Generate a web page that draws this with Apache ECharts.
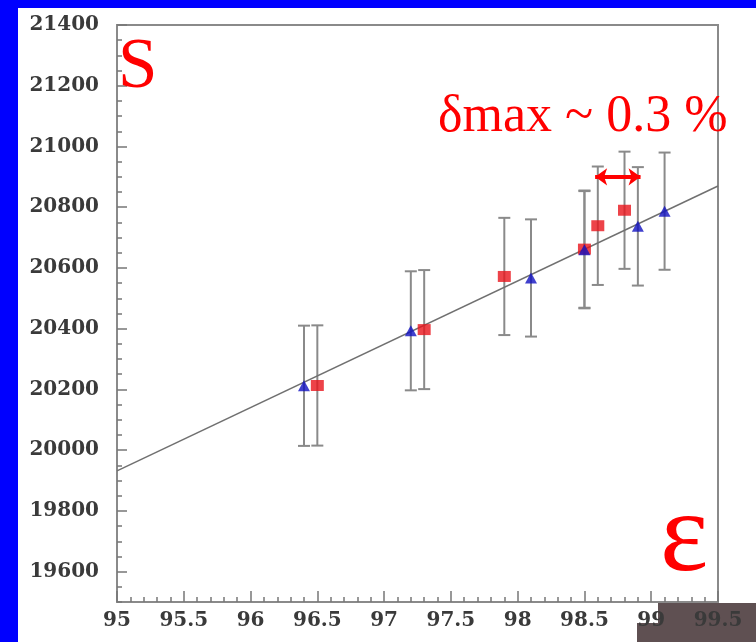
<!DOCTYPE html>
<html><head><meta charset="utf-8">
<script src="https://cdn.jsdelivr.net/npm/echarts@6/dist/echarts.min.js"></script>
<style>
html,body{margin:0;padding:0;background:#0000ff;width:756px;height:642px;overflow:hidden}
#c{position:absolute;left:18px;top:8px;width:738px;height:634px;background:#ffffff}
</style>
</head><body><div id="c"></div>
<script>
// ---- data ----
const xTickLabels = [95, 95.5, 96, 96.5, 97, 97.5, 98, 98.5, 99, 99.5];
const yTickLabels = [19600, 19800, 20000, 20200, 20400, 20600, 20800, 21000, 21200, 21400];
const blueX = [96.4, 97.2, 98.1, 98.5, 98.9, 99.1];
const blueY = [20212, 20393, 20567, 20660, 20737, 20787];
const blueErr = [198, 196, 193, 193, 195, 193];
const redX = [96.5, 97.3, 97.9, 98.5, 98.6, 98.8];
const redY = [20213, 20397, 20572, 20662, 20739, 20790];
const redErr = [198, 196, 193, 193, 195, 193];
const fitX = [95, 99.5];
const fitY = [19932, 20870];
const arrowX = [98.58, 98.92];
const arrowY = 20900;
const labelS = 'S';
const labelDelta = 'δmax ~ 0.3 %';
const labelEps = 'ε';

const chart = echarts.init(document.getElementById('c'), null, {renderer: 'canvas'});

function errData(xs, ys, es) {
  return xs.map((x, i) => [x, ys[i] - es[i], ys[i] + es[i]]);
}
function errRender(params, api) {
  const x = api.value(0);
  const lo = api.coord([x, api.value(1)]);
  const hi = api.coord([x, api.value(2)]);
  const hw = 6;
  const st = {stroke: '#8a8a8a', lineWidth: 2};
  return {
    type: 'group',
    children: [
      {type: 'line', shape: {x1: lo[0], y1: lo[1], x2: hi[0], y2: hi[1]}, style: st},
      {type: 'line', shape: {x1: lo[0] - hw, y1: lo[1], x2: lo[0] + hw, y2: lo[1]}, style: st},
      {type: 'line', shape: {x1: hi[0] - hw, y1: hi[1], x2: hi[0] + hw, y2: hi[1]}, style: st}
    ]
  };
}

const labelFont = {fontFamily: 'DejaVu Serif', fontWeight: 'bold', fontSize: 20, color: '#3a3a3a'};

const option = {
  animation: false,
  backgroundColor: '#ffffff',
  grid: {left: 99, top: 17, right: 38, bottom: 40, show: true, borderColor: '#8a8a8a', borderWidth: 2, backgroundColor: 'transparent'},
  xAxis: {
    type: 'value', min: 95, max: 99.5, interval: 0.5,
    axisLine: {show: true, lineStyle: {color: '#8a8a8a', width: 2}},
    axisTick: {show: true, inside: true, length: 11, lineStyle: {color: '#777', width: 1.5}},
    minorTick: {show: true, splitNumber: 5, length: 5, lineStyle: {color: '#777', width: 1.5}},
    splitLine: {show: false},
    axisLabel: Object.assign({margin: 9, formatter: v => String(v), customValues: xTickLabels}, labelFont)
  },
  yAxis: [{
    type: 'value', min: 19500, max: 21400, interval: 50,
    axisLine: {show: true, lineStyle: {color: '#8a8a8a', width: 2}},
    axisTick: {show: true, inside: true, length: 5, lineStyle: {color: '#777', width: 1.5}},
    splitLine: {show: false},
    axisLabel: Object.assign({margin: 18, customValues: yTickLabels,
      formatter: v => (v % 200 === 0 ? String(v) : '')}, labelFont)
  }, {
    type: 'value', min: 19500, max: 21400, interval: 100, position: 'left', offset: 0,
    axisLine: {show: false},
    axisTick: {show: true, inside: true, length: 10, customValues: yTickLabels, lineStyle: {color: '#777', width: 1.5}},
    axisLabel: {show: false},
    splitLine: {show: false}
  }],
  graphic: [
    {type: 'rect', z: -10, shape: {x: 640, y: 595, width: 98, height: 39}, style: {fill: '#5f5052'}},
    {type: 'rect', z: -10, shape: {x: 619, y: 615, width: 22, height: 19}, style: {fill: '#5f5052'}},
    {type: 'text', left: 100, top: 25, z: 100, style: {text: labelS, fill: '#ff0000', font: '71px "Liberation Serif"'}},
    {type: 'text', left: 420, top: 83, z: 100, style: {text: labelDelta, fill: '#ff0000', font: '52px "Liberation Serif"'}},
    {type: 'text', left: 642, top: 474, z: 100, style: {text: labelEps, fill: '#ff0000', font: '115px "Liberation Serif"'}}
  ],
  series: [
    {type: 'custom', name: 'errRed', renderItem: errRender, data: errData(redX, redY, redErr), z: 1, silent: true},
    {type: 'custom', name: 'errBlue', renderItem: errRender, data: errData(blueX, blueY, blueErr), z: 1, silent: true},
    {type: 'line', name: 'fit', data: fitX.map((x, i) => [x, fitY[i]]), showSymbol: false, z: 2,
      lineStyle: {color: '#707070', width: 1.5}},
    {type: 'scatter', name: 'red', data: redX.map((x, i) => [x, redY[i]]), symbol: 'rect', symbolSize: [13, 11], z: 3,
      itemStyle: {color: '#e8141c'},
      markLine: {silent: true, symbol: ['arrow', 'arrow'], symbolSize: [13, 12], label: {show: false},
        lineStyle: {color: '#ff0000', width: 4, type: 'solid'},
        data: [[{coord: [arrowX[0], arrowY]}, {coord: [arrowX[1], arrowY]}]]}},
    {type: 'scatter', name: 'blue', data: blueX.map((x, i) => [x, blueY[i]]), symbol: 'triangle', symbolSize: [12, 11], z: 4,
      itemStyle: {color: '#1010c0'}}
  ]
};
chart.setOption(option);
</script>
</body></html>
